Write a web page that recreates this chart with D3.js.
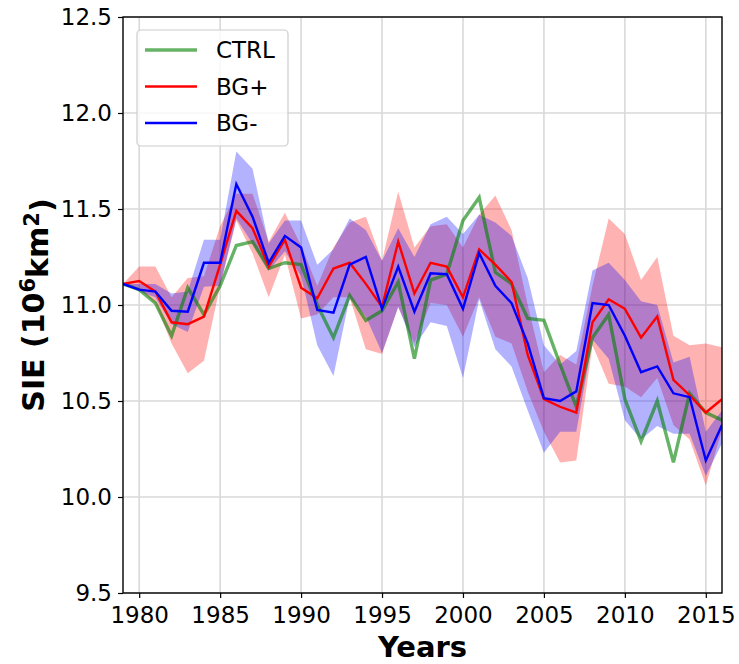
<!DOCTYPE html>
<html>
<head>
<meta charset="utf-8">
<script src="https://cdn.jsdelivr.net/npm/d3@7"></script>
<style>
  html, body { margin: 0; padding: 0; background: #fff; }
  svg { display: block; font-family: "DejaVu Sans", sans-serif; }
</style>
</head>
<body>
<svg id="chart" width="739" height="664"></svg>
<script>
const years = [1979,1980,1981,1982,1983,1984,1985,1986,1987,1988,1989,1990,1991,1992,1993,1994,1995,1996,1997,1998,1999,2000,2001,2002,2003,2004,2005,2006,2007,2008,2009,2010,2011,2012,2013,2014,2015,2016];

const ctrl = [11.11,11.08,11.01,10.84,11.09,10.95,11.10,11.31,11.33,11.19,11.22,11.21,11.00,10.83,11.05,10.92,10.97,11.12,10.72,11.13,11.16,11.44,11.56,11.17,11.11,10.93,10.92,10.69,10.47,10.83,10.95,10.51,10.29,10.50,10.18,10.54,10.44,10.40];
const bgPlus = [11.11,11.125,11.07,10.91,10.90,10.94,11.21,11.49,11.40,11.20,11.34,11.09,11.035,11.19,11.22,11.11,10.99,11.33,11.06,11.22,11.20,11.04,11.29,11.21,11.12,10.74,10.51,10.47,10.44,10.91,11.03,10.98,10.83,10.94,10.61,10.53,10.44,10.51];
const bgMinus = [11.11,11.08,11.07,10.97,10.965,11.22,11.22,11.63,11.46,11.22,11.36,11.30,10.974,10.96,11.21,11.25,10.98,11.20,10.965,11.165,11.16,10.98,11.27,11.10,11.01,10.80,10.515,10.50,10.55,11.01,11.00,10.84,10.65,10.68,10.54,10.52,10.19,10.375];

const bgPlusHi = [11.11,11.20,11.20,11.04,11.14,11.15,11.41,11.58,11.58,11.33,11.48,11.31,11.10,11.30,11.43,11.46,11.23,11.59,11.30,11.41,11.42,11.30,11.47,11.57,11.39,11.00,10.65,10.74,10.69,11.10,11.45,11.37,11.13,11.25,10.84,10.79,10.80,10.78];
const bgPlusLo = [11.11,11.08,11.01,10.80,10.645,10.71,11.10,11.44,11.27,11.04,11.26,10.93,10.95,11.04,11.04,10.77,10.745,10.99,10.80,11.01,11.00,10.835,11.04,10.835,10.80,10.55,10.34,10.18,10.19,10.79,10.59,10.575,10.52,10.62,10.375,10.30,10.06,10.35];
const bgMinusHi = [11.11,11.11,11.11,11.06,11.07,11.34,11.34,11.80,11.71,11.32,11.44,11.44,11.21,11.29,11.45,11.39,11.23,11.40,11.25,11.42,11.46,11.37,11.47,11.43,11.36,11.14,10.79,10.69,10.76,11.18,11.22,11.13,11.02,11.00,10.70,10.73,10.34,10.45];
const bgMinusLo = [11.11,11.07,11.04,10.90,10.86,11.095,11.10,11.45,11.32,11.18,11.28,11.15,10.79,10.63,11.04,10.94,10.75,10.99,10.78,10.91,10.89,10.62,11.03,10.77,10.68,10.45,10.23,10.34,10.34,10.82,10.72,10.40,10.30,10.37,10.33,10.33,10.11,10.28];

const xTicks = [1980,1985,1990,1995,2000,2005,2010,2015];
const yTicks = [9.5,10.0,10.5,11.0,11.5,12.0,12.5];
const seriesNames = ["CTRL","BG+","BG-"];

const svg = d3.select("#chart");
const L = 123, T = 17, R = 722, B = 593;
const x = d3.scaleLinear().domain([1979, 2016]).range([L, R]);
const y = d3.scaleLinear().domain([9.5, 12.5]).range([B, T]);

// grid
const grid = svg.append("g");
grid.selectAll("line.vx").data(xTicks).join("line")
  .attr("x1", d => x(d)).attr("x2", d => x(d)).attr("y1", T).attr("y2", B)
  .attr("stroke", "#d9d9d9").attr("stroke-width", 1.6);
grid.selectAll("line.hy").data(yTicks).join("line")
  .attr("x1", L).attr("x2", R).attr("y1", d => y(d)).attr("y2", d => y(d))
  .attr("stroke", "#d9d9d9").attr("stroke-width", 1.6);

svg.append("clipPath").attr("id", "clip").append("rect")
  .attr("x", L).attr("y", T).attr("width", R - L).attr("height", B - T);
const plot = svg.append("g").attr("clip-path", "url(#clip)");

const area = (hi, lo) => d3.area()
  .x((d, i) => x(years[i])).y0((d, i) => y(lo[i])).y1((d, i) => y(hi[i]))(years);

plot.append("path").attr("d", area(bgPlusHi, bgPlusLo))
  .attr("fill", "#ff0000").attr("fill-opacity", 0.3);
plot.append("path").attr("d", area(bgMinusHi, bgMinusLo))
  .attr("fill", "#0000ff").attr("fill-opacity", 0.3);

const line = vals => d3.line().x((d, i) => x(years[i])).y((d, i) => y(vals[i]))(years);

plot.append("path").attr("d", line(ctrl)).attr("fill", "none")
  .attr("stroke", "#008000").attr("stroke-opacity", 0.6).attr("stroke-width", 3.4);
plot.append("path").attr("d", line(bgPlus)).attr("fill", "none")
  .attr("stroke", "#ff0000").attr("stroke-width", 2.4);
plot.append("path").attr("d", line(bgMinus)).attr("fill", "none")
  .attr("stroke", "#0000ff").attr("stroke-width", 2.4);

// axes
const xAxis = svg.append("g").attr("transform", `translate(0,${B})`)
  .call(d3.axisBottom(x).tickValues(xTicks).tickFormat(d3.format("d")).tickSize(5).tickPadding(5));
const yAxis = svg.append("g").attr("transform", `translate(${L},0)`)
  .call(d3.axisLeft(y).tickValues(yTicks).tickFormat(d3.format(".1f")).tickSize(5).tickPadding(6));
[xAxis, yAxis].forEach(a => {
  a.select(".domain").remove();
  a.selectAll(".tick line").attr("stroke", "#000").attr("stroke-width", 1.2);
  a.selectAll(".tick text").attr("fill", "#000").style("font-size", "23px")
    .style("font-family", "'DejaVu Sans', sans-serif");
});
xAxis.selectAll(".tick text").attr("dy", "0.85em");

// spines
svg.append("rect").attr("x", L).attr("y", T).attr("width", R - L).attr("height", B - T)
  .attr("fill", "none").attr("stroke", "#000").attr("stroke-width", 1.4);

// labels
svg.append("text").attr("x", (L + R) / 2).attr("y", 657).attr("text-anchor", "middle")
  .style("font-size", "29px").style("font-weight", "bold").text("Years");

const yl = svg.append("text").attr("transform", `translate(44,${(T + B) / 2}) rotate(-90)`)
  .attr("text-anchor", "middle").style("font-size", "30px").style("font-weight", "bold");
yl.append("tspan").text("SIE (10");
yl.append("tspan").attr("dy", "-0.45em").style("font-size", "21px").text("6");
yl.append("tspan").attr("dy", "0.45em").text("km");
yl.append("tspan").attr("dy", "-0.45em").style("font-size", "21px").text("2");
yl.append("tspan").attr("dy", "0.45em").text(")");

// legend
const lg = svg.append("g");
lg.append("rect").attr("x", 137).attr("y", 30).attr("width", 151).attr("height", 116)
  .attr("rx", 4).attr("fill", "#fff").attr("fill-opacity", 0.8)
  .attr("stroke", "#cccccc").attr("stroke-width", 1.2);
const legendStyles = [
  {c: "#008000", o: 0.6, w: 3.4},
  {c: "#ff0000", o: 1, w: 2.4},
  {c: "#0000ff", o: 1, w: 2.4}
];
seriesNames.forEach((name, i) => {
  const yy = 50 + i * 36.5;
  lg.append("line").attr("x1", 145).attr("x2", 197).attr("y1", yy).attr("y2", yy)
    .attr("stroke", legendStyles[i].c).attr("stroke-opacity", legendStyles[i].o)
    .attr("stroke-width", legendStyles[i].w);
  lg.append("text").attr("x", 216).attr("y", yy).attr("dy", "0.36em")
    .style("font-size", "23px").text(name);
});
</script>
</body>
</html>
